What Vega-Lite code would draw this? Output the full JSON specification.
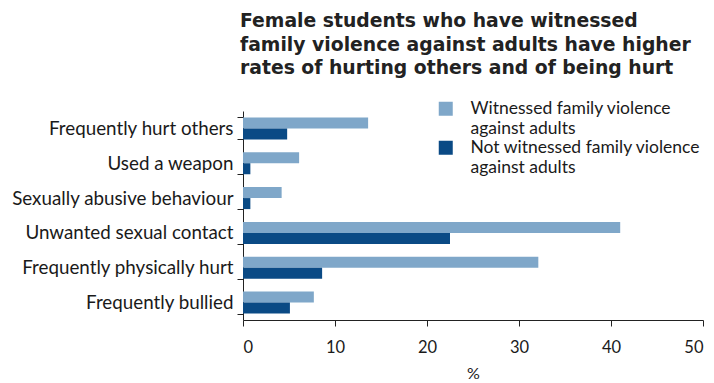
{
  "$schema": "https://vega.github.io/schema/vega-lite/v6.json",
  "autosize": "none",
  "width": 460,
  "height": 209,
  "padding": {"left": 243, "top": 111, "right": 11, "bottom": 63},
  "background": "white",
  "title": {
    "text": ["Female students who have witnessed", "family violence against adults have higher", "rates of hurting others and of being hurt"],
    "anchor": "start",
    "frame": "group",
    "font": "DejaVu Sans",
    "fontSize": 18.8,
    "fontWeight": "bold",
    "color": "#222222",
    "lineHeight": 23.5,
    "offset": 22,
    "dx": -3
  },
  "data": {
    "values": [
      {"category": "Frequently hurt others", "group": "Witnessed family violence against adults", "value": 13.6},
      {"category": "Frequently hurt others", "group": "Not witnessed family violence against adults", "value": 4.8},
      {"category": "Used a weapon", "group": "Witnessed family violence against adults", "value": 6.1},
      {"category": "Used a weapon", "group": "Not witnessed family violence against adults", "value": 0.8},
      {"category": "Sexually abusive behaviour", "group": "Witnessed family violence against adults", "value": 4.2},
      {"category": "Sexually abusive behaviour", "group": "Not witnessed family violence against adults", "value": 0.8},
      {"category": "Unwanted sexual contact", "group": "Witnessed family violence against adults", "value": 41.0},
      {"category": "Unwanted sexual contact", "group": "Not witnessed family violence against adults", "value": 22.5},
      {"category": "Frequently physically hurt", "group": "Witnessed family violence against adults", "value": 32.1},
      {"category": "Frequently physically hurt", "group": "Not witnessed family violence against adults", "value": 8.6},
      {"category": "Frequently bullied", "group": "Witnessed family violence against adults", "value": 7.7},
      {"category": "Frequently bullied", "group": "Not witnessed family violence against adults", "value": 5.1}
    ]
  },
  "mark": {"type": "bar"},
  "encoding": {
    "y": {
      "field": "category",
      "type": "nominal",
      "sort": ["Frequently hurt others", "Used a weapon", "Sexually abusive behaviour", "Unwanted sexual contact", "Frequently physically hurt", "Frequently bullied"],
      "scale": {"paddingInner": 0.368, "paddingOuter": 0.184},
      "axis": {
        "title": null,
        "tickBand": "extent",
        "tickSize": 6,
        "tickColor": "#222222",
        "domainColor": "#222222",
        "labelFont": "Lato",
        "labelFontSize": 18.8,
        "labelColor": "#1a1a1a",
        "labelPadding": 4,
        "labelLimit": 300
      }
    },
    "yOffset": {
      "field": "group",
      "type": "nominal",
      "sort": ["Witnessed family violence against adults", "Not witnessed family violence against adults"]
    },
    "x": {
      "field": "value",
      "type": "quantitative",
      "scale": {"domain": [0, 50], "nice": false},
      "axis": {
        "title": "%",
        "values": [0, 10, 20, 30, 40, 50],
        "grid": false,
        "tickSize": 6,
        "tickColor": "#222222",
        "domainColor": "#222222",
        "labelFont": "Lato",
        "labelFontSize": 16.5,
        "labelColor": "#1a1a1a",
        "labelPadding": 13,
        "titleFont": "Lato",
        "titleFontSize": 16,
        "titleFontWeight": "normal",
        "titleColor": "#1a1a1a",
        "titlePadding": 10
      }
    },
    "color": {
      "field": "group",
      "type": "nominal",
      "sort": ["Witnessed family violence against adults", "Not witnessed family violence against adults"],
      "scale": {"range": ["#7fa7c9", "#0a4a85"]},
      "legend": {
        "title": null,
        "orient": "none",
        "legendX": 194,
        "legendY": -11,
        "symbolType": "square",
        "symbolSize": 196,
        "symbolStrokeWidth": 0,
        "symbolOpacity": 1,
        "labelFont": "Lato",
        "labelFontSize": 17.5,
        "labelColor": "#1a1a1a",
        "labelOffset": 16,
        "labelBaseline": "middle",
        "labelLimit": 400,
        "rowPadding": 0,
        "labelExpr": "datum.label == 'Witnessed family violence against adults' ? ['Witnessed family violence', 'against adults'] : ['Not witnessed family violence', 'against adults']"
      }
    }
  },
  "config": {
    "view": {"stroke": null},
    "style": {"guide-label": {"lineHeight": 20}}
  }
}
